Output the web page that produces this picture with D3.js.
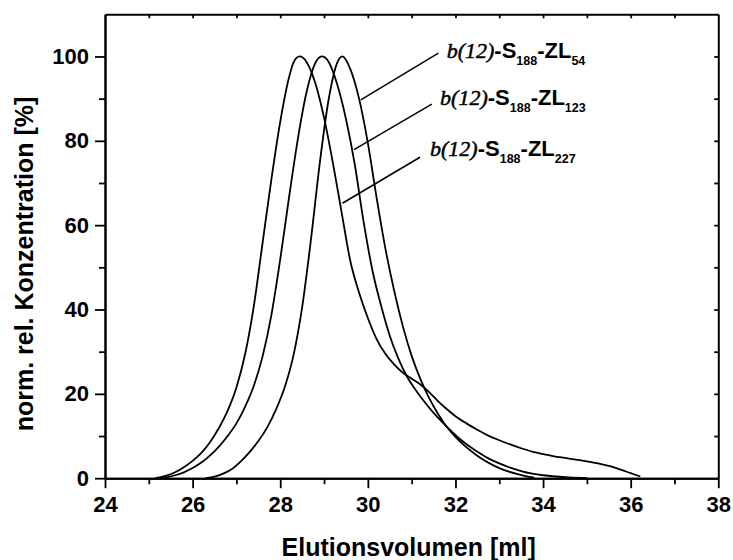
<!DOCTYPE html>
<html>
<head>
<meta charset="utf-8">
<script src="https://cdn.jsdelivr.net/npm/d3@7"></script>
<style>
  html, body { margin: 0; padding: 0; background: #fff; }
  svg { display: block; }
  .tick text { font-family: "Liberation Sans", Arial, sans-serif; font-weight: bold; font-size: 22px; fill: #000; }
</style>
</head>
<body>
<div id="chart"></div>
<script>
// Elution volume [ml] and normalised relative concentration [%] for each sample
const zl227Ml   = [25.15, 25.4, 25.6, 25.8, 26.0, 26.2, 26.4, 26.6, 26.8, 27.0, 27.2, 27.4, 27.6, 27.8, 28.0, 28.2, 28.3, 28.44,
                   28.6, 28.8, 29.0, 29.2, 29.4, 29.6, 29.8, 30.0, 30.2, 30.4, 30.6, 30.8, 31.0, 31.2, 31.4, 31.6, 31.8, 32.0,
                   32.25, 32.5, 32.75, 33.0, 33.25, 33.5, 33.75, 34.0, 34.25, 34.5, 34.75, 35.0, 35.25, 35.5, 35.75, 36.0, 36.22];
const zl227Conc = [0, 0.6, 1.4, 2.6, 4.1, 6.0, 8.6, 11.9, 16.0, 21.5, 29.5, 41.0, 56.0, 71.0, 84.5, 95.0, 98.5, 100,
                   98.7, 93.7, 85.5, 74.9, 63.1, 51.5, 44.0, 38.0, 33.0, 29.5, 27.0, 25.0, 23.6, 22.2, 20.4, 18.3, 16.4, 14.7,
                   13.0, 11.5, 10.1, 9.0, 8.0, 7.1, 6.3, 5.7, 5.2, 4.8, 4.4, 4.0, 3.5, 2.9, 2.1, 1.2, 0.4];

const zl123Ml   = [25.3, 25.4, 25.6, 25.8, 26.0, 26.2, 26.4, 26.6, 26.8, 27.0, 27.2, 27.4, 27.6, 27.8, 28.0, 28.2, 28.4, 28.6, 28.8, 28.95,
                   29.1, 29.3, 29.5, 29.7, 29.9, 30.1, 30.3, 30.5, 30.7, 30.9, 31.1, 31.3, 31.5, 31.7, 31.9, 32.1, 32.3, 32.5,
                   32.75, 33.0, 33.25, 33.5, 33.75, 34.0, 34.3, 34.6, 35.0];
const zl123Conc = [0, 0.2, 0.7, 1.4, 2.4, 3.7, 5.4, 7.5, 10.0, 13.0, 17.0, 22.0, 29.0, 38.8, 51.9, 66.5, 80.3, 91.5, 98.4, 100,
                   98.8, 93.4, 85.2, 74.5, 61.0, 49.5, 41.0, 33.8, 28.3, 24.0, 20.8, 18.0, 15.5, 13.3, 11.2, 9.3, 7.7, 6.3,
                   4.7, 3.5, 2.5, 1.7, 1.1, 0.7, 0.4, 0.2, 0.05];

const zl54Ml    = [26.3, 26.5, 26.7, 26.9, 27.1, 27.3, 27.5, 27.7, 27.9, 28.1, 28.3, 28.5, 28.7, 28.9, 29.1, 29.3, 29.42,
                   29.6, 29.8, 30.0, 30.2, 30.4, 30.6, 30.8, 31.0, 31.2, 31.4, 31.6, 31.8, 32.0, 32.2, 32.4, 32.6, 32.8,
                   33.0, 33.2, 33.4, 33.6, 33.8];
const zl54Conc  = [0, 0.35, 1.1, 2.2, 4.0, 6.2, 8.8, 12.0, 16.2, 21.5, 29.0, 40.5, 56.5, 74.5, 89.5, 98.5, 100,
                   97.0, 90.0, 79.5, 66.5, 54.5, 44.5, 36.0, 29.0, 23.5, 19.0, 15.3, 12.2, 9.8, 7.8, 6.1, 4.6, 3.4,
                   2.4, 1.6, 1.0, 0.5, 0.15];

// Axis ticks
const xMajorTicks = [24, 26, 28, 30, 32, 34, 36, 38];
const xMinorTicks = [25, 27, 29, 31, 33, 35, 37];
const xTopTicks   = [25, 26, 27, 28, 29, 30, 31, 32, 33, 34, 35, 36, 37];
const yMajorTicks = [0, 20, 40, 60, 80, 100];
const yMinorTicks = [10, 30, 50, 70, 90];
const yRightTicks = [10, 20, 30, 40, 50, 60, 70, 80, 90, 100];

// Sample labels: italic block prefix, main text and subscripts
const labelPrefix = "b(12)";
const spacerSub   = "188";
const zlSubs      = ["54", "123", "227"];

const W = 733, H = 560;
const margin = { left: 105, right: 733 - 718.3, top: 14.3, bottom: 560 - 478.2 };

const svg = d3.select("#chart").append("svg")
  .attr("width", W).attr("height", H);

const x = d3.scaleLinear().domain([24, 38]).range([margin.left, W - margin.right]);
const y = d3.scaleLinear().domain([0, 110]).range([H - margin.bottom, margin.top]);

const axisStyle = g => {
  g.select(".domain").attr("stroke", "#000").attr("stroke-width", 2);
  g.selectAll(".tick line").attr("stroke", "#000").attr("stroke-width", 1.8);
};

// bottom axis: major ticks with labels, minor ticks without
svg.append("g").attr("transform", `translate(0,${y(0)})`)
  .call(d3.axisBottom(x).tickValues(xMinorTicks).tickSize(6).tickSizeOuter(0).tickFormat(""))
  .call(axisStyle);
svg.append("g").attr("transform", `translate(0,${y(0)})`)
  .call(d3.axisBottom(x).tickValues(xMajorTicks).tickSize(10).tickSizeOuter(0).tickFormat(d3.format("d")))
  .call(axisStyle)
  .call(g => g.selectAll(".tick text").attr("dy", "0.71em").attr("y", 18));

// left axis
svg.append("g").attr("transform", `translate(${x(24)},0)`)
  .call(d3.axisLeft(y).tickValues(yMinorTicks).tickSize(6).tickSizeOuter(0).tickFormat(""))
  .call(axisStyle);
svg.append("g").attr("transform", `translate(${x(24)},0)`)
  .call(d3.axisLeft(y).tickValues(yMajorTicks).tickSize(10).tickSizeOuter(0).tickPadding(6).tickFormat(d3.format("d")))
  .call(axisStyle);

// top and right axes: inward ticks only
svg.append("g").attr("transform", `translate(0,${y(110)})`)
  .call(d3.axisTop(x).tickValues(xTopTicks).tickSize(-4).tickSizeOuter(0).tickFormat(""))
  .call(axisStyle);
svg.append("g").attr("transform", `translate(${x(38)},0)`)
  .call(d3.axisRight(y).tickValues(yRightTicks).tickSize(-4).tickSizeOuter(0).tickFormat(""))
  .call(axisStyle);

// elution curves
const line = d3.line()
  .x(d => x(d[0]))
  .y(d => y(d[1]))
  .curve(d3.curveMonotoneX);

const series = [
  { ml: zl54Ml,  conc: zl54Conc },
  { ml: zl123Ml, conc: zl123Conc },
  { ml: zl227Ml, conc: zl227Conc }
];

svg.append("g").selectAll("path")
  .data(series)
  .join("path")
  .attr("d", s => line(s.ml.map((v, i) => [v, s.conc[i]])))
  .attr("fill", "none")
  .attr("stroke", "#000")
  .attr("stroke-width", 1.8)
  .attr("stroke-linejoin", "round");

// labels with leader lines (label anchor and leader in data units)
const labels = [
  { sub: zlSubs[0], tx: 31.80, ty: 99.6, x1: 31.61, y1: 100.8, x2: 29.84, y2: 89.7 },
  { sub: zlSubs[1], tx: 31.65, ty: 88.5, x1: 31.46, y1: 88.7,  x2: 29.685, y2: 77.9 },
  { sub: zlSubs[2], tx: 31.42, ty: 76.3, x1: 31.19, y1: 76.1,  x2: 29.42, y2: 65.2 }
];

const ann = svg.append("g");
ann.selectAll("line")
  .data(labels)
  .join("line")
  .attr("x1", d => x(d.x1)).attr("y1", d => y(d.y1))
  .attr("x2", d => x(d.x2)).attr("y2", d => y(d.y2))
  .attr("stroke", "#000").attr("stroke-width", 1.5);

const texts = ann.selectAll("text")
  .data(labels)
  .join("text")
  .attr("x", d => x(d.tx))
  .attr("y", d => y(d.ty))
  .attr("font-size", 22)
  .attr("fill", "#000");

const sans = "'Liberation Sans', Arial, sans-serif";
texts.append("tspan")
  .attr("font-family", "'Liberation Serif', 'Times New Roman', serif")
  .attr("font-style", "italic")
  .attr("stroke", "#000").attr("stroke-width", 0.5)
  .text(labelPrefix);
texts.append("tspan")
  .attr("font-family", sans).attr("font-weight", "bold")
  .text("-S");
texts.append("tspan")
  .attr("font-family", sans).attr("font-weight", "bold")
  .attr("font-size", 12.5).attr("dy", 7)
  .text(spacerSub);
texts.append("tspan")
  .attr("font-family", sans).attr("font-weight", "bold")
  .attr("dy", -7)
  .text("-ZL");
texts.append("tspan")
  .attr("font-family", sans).attr("font-weight", "bold")
  .attr("font-size", 12.5).attr("dy", 7)
  .text(d => d.sub);

// axis titles
svg.append("text")
  .attr("x", (x(24) + x(38)) / 2 - 3)
  .attr("y", 556)
  .attr("text-anchor", "middle")
  .attr("font-family", sans)
  .attr("font-weight", "bold")
  .attr("font-size", 25)
  .text("Elutionsvolumen [ml]");

svg.append("text")
  .attr("transform", "translate(33,264) rotate(-90)")
  .attr("text-anchor", "middle")
  .attr("font-family", sans)
  .attr("font-weight", "bold")
  .attr("font-size", 25)
  .text("norm. rel. Konzentration [%]");
</script>
</body>
</html>
